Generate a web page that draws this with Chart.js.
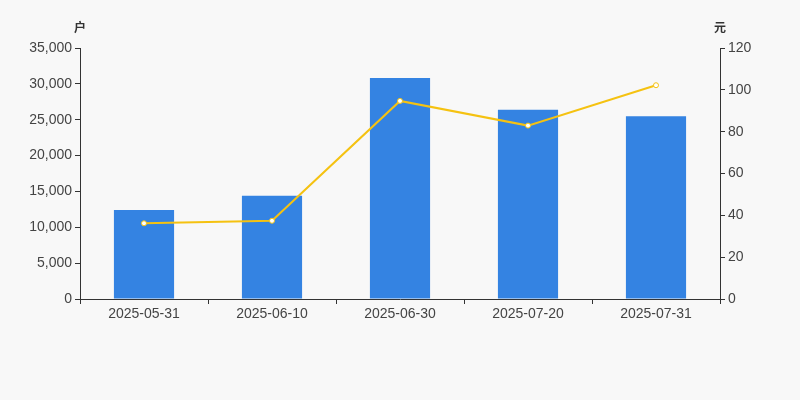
<!DOCTYPE html>
<html><head><meta charset="utf-8">
<script src="https://cdn.jsdelivr.net/npm/chart.js@4/dist/chart.umd.min.js"></script>
<style>html,body{margin:0;padding:0;background:#f8f8f8;}#wrap{width:800px;height:400px;}</style>
</head><body><div id="wrap"><canvas id="c" width="800" height="400"></canvas></div>
<script>
const categories = ["2025-05-31","2025-06-10","2025-06-30","2025-07-20","2025-07-31"];
const holders = [12400, 14400, 30800, 26400, 25500];
const avgValue = [36.2, 37.4, 94.7, 82.9, 102.2];
const leftTicks = [0,5000,10000,15000,20000,25000,30000,35000];
const rightTicks = [0,20,40,60,80,100,120];
const leftUnit = "户";
const rightUnit = "元";

const FONT = "'Liberation Sans', Arial, sans-serif";
const unitPlugin = {
  id:'units',
  afterDraw(chart){
    const ctx = chart.ctx, a = chart.chartArea;
    ctx.save();
    ctx.font = "bold 12px 'Noto Sans CJK SC', sans-serif";
    ctx.fillStyle = '#333';
    ctx.textAlign = 'center'; ctx.textBaseline = 'middle';
    ctx.fillText(leftUnit, a.left, 27);
    ctx.fillText(rightUnit, a.right, 27);
    ctx.restore();
  }
};
const bg = {id:'bg', beforeDraw(chart){const c=chart.ctx;c.save();c.fillStyle='#f8f8f8';c.fillRect(0,0,chart.width,chart.height);c.restore();}};

new Chart(document.getElementById('c'), {
  data:{
    labels:categories,
    datasets:[
      {type:'line', data:avgValue, yAxisID:'y1', borderColor:'#f5c211', borderWidth:2,
       pointRadius:2.5, pointBackgroundColor:'#ffffff', pointBorderColor:'#f5c211', pointBorderWidth:1,
       tension:0, order:0},
      {type:'bar', data:holders, yAxisID:'y', backgroundColor:'#3483e2',
       barPercentage:0.47, categoryPercentage:1, order:1}
    ]
  },
  options:{
    responsive:false, animation:false,
    layout:{padding:{top:48,left:0,right:0,bottom:0}},
    plugins:{legend:{display:false}, tooltip:{enabled:false}},
    scales:{
      x:{
        grid:{display:true, drawOnChartArea:false, drawTicks:true, tickLength:5, color:'#333', offset:true},
        border:{display:true, color:'#333', width:1},
        ticks:{color:'#444', font:{family:FONT,size:14}, padding:2, maxRotation:0},
        afterFit(s){s.height=101;}
      },
      y:{
        position:'left', min:0, max:35000,
        afterBuildTicks(s){s.ticks = leftTicks.map(v=>({value:v}));},
        grid:{display:true, drawOnChartArea:false, tickLength:5, color:'#333'},
        border:{display:true,color:'#333'},
        ticks:{color:'#444', font:{family:FONT,size:14}, padding:3,
          callback:v=>v.toLocaleString('en-US')},
        afterFit(s){s.width=80;}
      },
      y1:{
        position:'right', min:0, max:120,
        afterBuildTicks(s){s.ticks = rightTicks.map(v=>({value:v}));},
        grid:{display:true, drawOnChartArea:false, tickLength:5, color:'#333'},
        border:{display:true,color:'#333'},
        ticks:{color:'#444', font:{family:FONT,size:14}, padding:3},
        afterFit(s){s.width=80;}
      }
    }
  },
  plugins:[bg, unitPlugin]
});
</script></body></html>
